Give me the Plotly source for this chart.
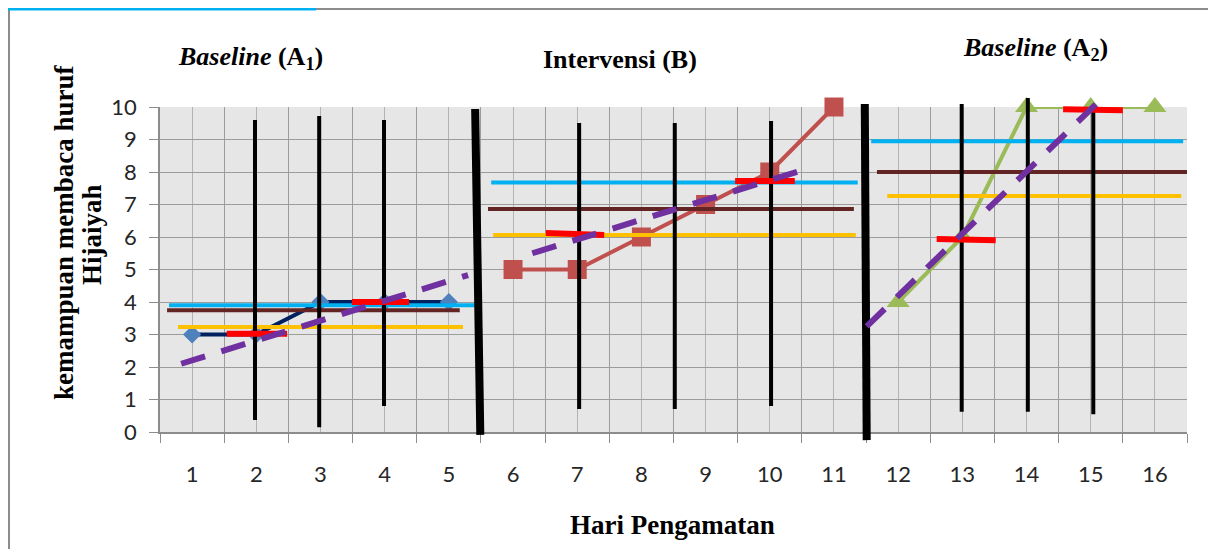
import plotly.graph_objects as go

# ---------------- data ----------------
days = list(range(1, 17))
day_labels = [str(d) for d in days]
y_ticks = list(range(0, 11))

a1_days = [1, 2, 3, 4, 5]
a1_vals = [3, 3, 4, 4, 4]
b_days = [6, 7, 8, 9, 10, 11]
b_vals = [5, 5, 6, 7, 8, 10]
a2_days = [12, 13, 14, 15, 16]
a2_vals = [4, 6, 10, 10, 10]

# stability envelope lines per phase (start day, end day, level)
upper_start = [0.64, 5.66, 11.58]
upper_end = [5.42, 11.37, 16.44]
upper_val = [3.9, 7.68, 8.95]
mean_start = [0.61, 5.61, 11.67]
mean_end = [5.17, 11.31, 16.55]
mean_val = [3.75, 6.86, 8.0]
lower_start = [0.78, 5.69, 11.83]
lower_end = [5.22, 11.34, 16.41]
lower_val = [3.23, 6.06, 7.26]

# red median segments
red_x0 = [1.54, 3.49, 6.51, 9.46, 12.60, 14.57]
red_x1 = [2.48, 4.38, 7.42, 10.39, 13.52, 15.50]
red_y0 = [3.02, 4.00, 6.12, 7.72, 5.94, 9.93]
red_y1 = [3.02, 4.00, 6.06, 7.72, 5.90, 9.90]

# purple trend lines
trend_x0 = [0.83, 6.30, 11.51]
trend_x1 = [5.30, 10.65, 15.12]
trend_y0 = [2.10, 5.50, 3.25]
trend_y1 = [4.83, 8.14, 10.16]

# thin black vertical markers
thin_x = [1.98, 2.98, 3.99, 7.03, 8.52, 10.02, 12.99, 14.02, 15.04]
thin_top = [9.60, 9.72, 9.60, 9.51, 9.51, 9.57, 10.09, 10.28, 9.97]
thin_bot = [0.37, 0.15, 0.80, 0.71, 0.71, 0.80, 0.62, 0.62, 0.55]

# thick phase-change lines
phase_x_top = [5.41, 11.48]
phase_x_bot = [5.49, 11.51]
phase_top = [9.94, 10.09]
phase_bot = [-0.09, -0.25]

# ---------------- geometry (page pixels, body margin 8px) ----------------
OFF = 8
W, H = 1216 - 2 * OFF, 557 - 2 * OFF
PLOT_L, PLOT_R = 160, 1187            # page columns of x=0.5 and x=16.5
PLOT_TOP, PLOT_BOT = 107, 432          # page rows of y=10 and y=0
ML = PLOT_L - OFF
MR = W - (PLOT_R - OFF)
MT, MB = 80, 100
PW = W - ML - MR
PH = H - MT - MB
UNIT = (PLOT_BOT - PLOT_TOP) / 10.0
bot_gap = (H - MB) - (PLOT_BOT - OFF)
top_gap = (PLOT_TOP - OFF) - MT
y_dom = [bot_gap / PH, (PH - top_gap) / PH]
y2_range = [0 - bot_gap / UNIT, 10 + top_gap / UNIT]


def px(xp):
    return (xp - OFF - ML) / PW


def py(yp):
    return (H - MB - (yp - OFF)) / PH


def segs(x0s, x1s, y0s, y1s):
    xs, ys = [], []
    for a, b, c, d in zip(x0s, x1s, y0s, y1s):
        xs += [a, b, None]
        ys += [c, d, None]
    return xs, ys


fig = go.Figure()

# data series (main subplot)
fig.add_trace(go.Scatter(x=a1_days, y=a1_vals, mode="lines+markers",
                         line=dict(color="#002060", width=4),
                         marker=dict(symbol="diamond", size=14, color="#4f81bd"),
                         cliponaxis=False, showlegend=False))
fig.add_trace(go.Scatter(x=b_days, y=b_vals, mode="lines+markers",
                         line=dict(color="#c0504d", width=4),
                         marker=dict(symbol="square", size=19, color="#c0504d"),
                         cliponaxis=False, showlegend=False))
fig.add_trace(go.Scatter(x=a2_days, y=a2_vals, mode="lines+markers",
                         line=dict(color="#9bbb59", width=4),
                         marker=dict(symbol="triangle-up", size=20, color="#9bbb59"),
                         cliponaxis=False, showlegend=False))

# overlays (extended subplot so they may pass the plot edge)
ov = dict(xaxis="x2", yaxis="y2", mode="lines", showlegend=False, hoverinfo="skip")
for s, e, v, col in [(upper_start, upper_end, upper_val, "#00b0f0"),
                     (mean_start, mean_end, mean_val, "#632523"),
                     (lower_start, lower_end, lower_val, "#ffc000")]:
    xs, ys = segs(s, e, v, v)
    fig.add_trace(go.Scatter(x=xs, y=ys, line=dict(color=col, width=4), **ov))

xs, ys = segs(thin_x, thin_x, thin_bot, thin_top)
fig.add_trace(go.Scatter(x=xs, y=ys, line=dict(color="black", width=4), **ov))
xs, ys = segs(phase_x_bot, phase_x_top, phase_bot, phase_top)
fig.add_trace(go.Scatter(x=xs, y=ys, line=dict(color="black", width=8), **ov))

xs, ys = segs(red_x0, red_x1, red_y0, red_y1)
fig.add_trace(go.Scatter(x=xs, y=ys, line=dict(color="#ff0000", width=6), **ov))

xs, ys = segs(trend_x0, trend_x1, trend_y0, trend_y1)
fig.add_trace(go.Scatter(x=xs, y=ys, line=dict(color="#7030a0", width=6, dash="25px,17px"), **ov))

boundaries = [d - 0.5 for d in days] + [days[-1] + 0.5]
tick_font = dict(family="Lato, 'Open Sans', sans-serif", size=22, color="#262626")

fig.update_layout(
    width=W, height=H,
    margin=dict(l=ML, r=MR, t=MT, b=MB, pad=0),
    paper_bgcolor="white",
    plot_bgcolor="rgba(0,0,0,0)",
    showlegend=False,
    xaxis=dict(range=[0.5, 16.5], domain=[0, 1], anchor="y",
               tickmode="array", tickvals=days, ticktext=day_labels,
               ticks="", showgrid=True, gridcolor="#b3b3b3", gridwidth=1,
               showline=True, linecolor="#8c8c8c", linewidth=1.5,
               tickfont=tick_font, ticklabelstandoff=22, zeroline=False,
               minor=dict(tickmode="array", tickvals=boundaries, showgrid=True,
                          gridcolor="#9c9c9c", gridwidth=1.2, ticks="outside",
                          ticklen=9, tickcolor="#8c8c8c", tickwidth=1.2)),
    yaxis=dict(range=[0, 10], domain=y_dom, anchor="x",
               tickmode="array", tickvals=y_ticks,
               ticks="outside", ticklen=9, tickcolor="#8c8c8c", tickwidth=1.2,
               showgrid=True, gridcolor="#9c9c9c", gridwidth=1.2,
               showline=True, linecolor="#8c8c8c", linewidth=1.5,
               tickfont=tick_font, ticklabelstandoff=8, zeroline=False),
    xaxis2=dict(range=[0.5, 16.5], domain=[0, 1], anchor="y2", visible=False,
                showgrid=False, zeroline=False),
    yaxis2=dict(range=y2_range, domain=[0, 1], anchor="x2", visible=False,
                showgrid=False, zeroline=False),
)

# gray plot background and the outer frame
fig.add_shape(type="rect", xref="x domain", yref="y domain", x0=0, x1=1, y0=0, y1=1,
              fillcolor="#e6e6e6", line=dict(width=0), layer="below")
fig.add_shape(type="line", xref="paper", yref="paper", x0=px(8), x1=px(1230), y0=py(9), y1=py(9),
              line=dict(color="#8c8c8c", width=2))
fig.add_shape(type="line", xref="paper", yref="paper", x0=px(9), x1=px(9), y0=py(9), y1=py(570),
              line=dict(color="#8c8c8c", width=2))
fig.add_shape(type="line", xref="paper", yref="paper", x0=px(8), x1=px(316), y0=py(9), y1=py(9),
              line=dict(color="#00b0f0", width=3))

serif = "'Liberation Serif', 'Times New Roman', serif"
ann = dict(xref="paper", yref="paper", showarrow=False, xanchor="center", yanchor="middle")
fig.add_annotation(x=px(250), y=py(58), text="<b><i>Baseline</i> (A<sub>1</sub>)</b>",
                   font=dict(family=serif, size=26, color="black"), **ann)
fig.add_annotation(x=px(620), y=py(59), text="<b>Intervensi (B)</b>",
                   font=dict(family=serif, size=26, color="black"), **ann)
fig.add_annotation(x=px(1035), y=py(49), text="<b><i>Baseline</i> (A<sub>2</sub>)</b>",
                   font=dict(family=serif, size=26, color="black"), **ann)
fig.add_annotation(x=px(672), y=py(525), text="<b>Hari Pengamatan</b>",
                   font=dict(family=serif, size=27, color="black"), **ann)
fig.add_annotation(x=px(64), y=py(232), text="<b>kemampuan membaca huruf</b>", textangle=-90,
                   font=dict(family=serif, size=27, color="black"), **ann)
fig.add_annotation(x=px(92), y=py(235), text="<b>Hijaiyah</b>", textangle=-90,
                   font=dict(family=serif, size=27, color="black"), **ann)

fig.write_html("out.html")
